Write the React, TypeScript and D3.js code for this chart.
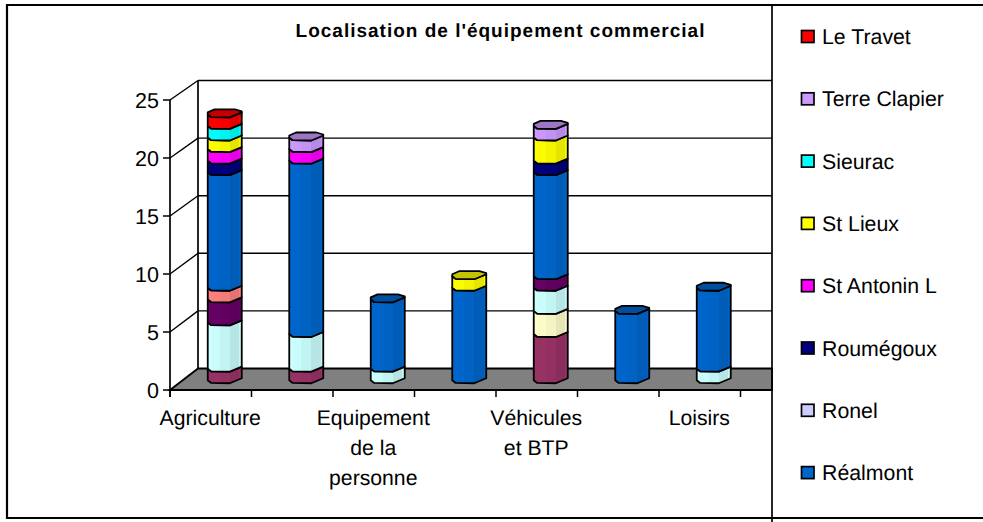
import React from "react";
import * as d3 from "d3";

const title = "Localisation de l'équipement commercial";
// Categories: the chart only prints every other label
const categories = ["Agriculture", "", "Equipement de la personne", "", "Véhicules et BTP", "", "Loisirs"];
const categoryLines = [["Agriculture"], [], ["Equipement", "de la", "personne"], [], ["Véhicules", "et BTP"], [], ["Loisirs"]];
const yTicks = [0, 5, 10, 15, 20, 25];

// Stack order, bottom to top. The first five series fall outside the clipped legend.
const seriesNames = ["s1", "s2", "s3", "s4", "s5", "Réalmont", "Ronel", "Roumégoux", "St Antonin L", "St Lieux", "Sieurac", "Terre Clapier", "Le Travet"];
const seriesColors = ["#993366", "#FFFFCC", "#CCFFFF", "#660066", "#FF8080", "#0066CC", "#CCCCFF", "#000080", "#FF00FF", "#FFFF00", "#00FFFF", "#CC99FF", "#FF0000"];
const s1 = [1, 1, 0, 0, 4, 0, 0];
const s2 = [0, 0, 0, 0, 2, 0, 0];
const s3 = [4, 3, 1, 0, 2, 0, 1];
const s4 = [2, 0, 0, 0, 1, 0, 0];
const s5 = [1, 0, 0, 0, 0, 0, 0];
const realmont = [10, 15, 6, 8, 9, 6, 7];
const ronel = [0, 0, 0, 0, 0, 0, 0];
const roumegoux = [1, 0, 0, 0, 1, 0, 0];
const stAntonin = [1, 1, 0, 0, 0, 0, 0];
const stLieux = [1, 0, 0, 1, 2, 0, 0];
const sieurac = [1, 0, 0, 0, 0, 0, 0];
const terreClapier = [0, 1, 0, 0, 1, 0, 0];
const leTravet = [1, 0, 0, 0, 0, 0, 0];
const seriesValues = [s1, s2, s3, s4, s5, realmont, ronel, roumegoux, stAntonin, stLieux, sieurac, terreClapier, leTravet];
const legendOrder = ["Le Travet", "Terre Clapier", "Sieurac", "St Lieux", "St Antonin L", "Roumégoux", "Ronel", "Réalmont"];

const FONT = "'Liberation Sans', Arial, sans-serif";
const RIGHT = 772;
const DX = 28;

const y = d3.scaleLinear().domain([0, 25]).range([390, 100]);
const yBack = d3.scaleLinear().domain([0, 25]).range([368.5, 80.5]);
const x = d3.scaleBand<number>().domain(categories.map((_, i) => i)).range([170, 740.5]);
const BAR_W = 34;

const frontProfile: [number, number][] = [[0, 1], [0.1, 3.7], [0.65, 4], [1, -1]];
const backProfile: [number, number][] = [[1, -2], [0.8, -4], [0.2, -4], [0, -1]];

function barSegments(cat: number) {
  let acc = 0;
  const out: { s: number; from: number; to: number }[] = [];
  seriesValues.forEach((vals, s) => {
    if (vals[cat] > 0) {
      out.push({ s, from: acc, to: acc + vals[cat] });
      acc += vals[cat];
    }
  });
  return out;
}

const line = d3.line<[number, number]>().x((d) => d[0]).y((d) => d[1]).curve(d3.curveLinear);

function shade(c: string, k: number) {
  return d3.color(c)!.darker(k).formatHex();
}

export default function App() {
  const ticksX = d3.range(0, categories.length + 1).map((i) => 170 + i * x.step());
  return (
    <svg width={983} height={522} textRendering="geometricPrecision" style={{ position: "absolute", left: 0, top: 0, background: "#fff" }}>
      <defs>
        {seriesColors.map((c, i) => (
          <linearGradient key={i} id={`g${i}`} x1="0" x2="1" y1="0" y2="0">
            {[
              [0, 0.1, 0], [0.1, 0.35, 0.03], [0.35, 0.65, 0.12], [0.65, 0.93, 0.3], [0.93, 1, 0.08],
            ].flatMap(([a, b, k], j) => [
              <stop key={`${j}a`} offset={a} stopColor={shade(c, k)} />,
              <stop key={`${j}b`} offset={b} stopColor={shade(c, k)} />,
            ])}
          </linearGradient>
        ))}
      </defs>

      {/* Back and side walls */}
      {yTicks.filter((t) => t > 0).map((t) => (
        <g key={t} stroke="#000" strokeWidth={1.4}>
          <line x1={170} y1={y(t)} x2={170 + DX} y2={yBack(t)} />
          <line x1={170 + DX} y1={yBack(t)} x2={RIGHT} y2={yBack(t)} />
        </g>
      ))}
      <line x1={170 + DX} y1={yBack(25)} x2={170 + DX} y2={yBack(0)} stroke="#000" strokeWidth={1.7} />
      <line x1={170} y1={y(25)} x2={170} y2={y(0) + 7} stroke="#000" strokeWidth={1.7} />

      {/* Floor */}
      <path
        d={line([[170, y(0)], [170 + DX, yBack(0)], [RIGHT, yBack(0)], [RIGHT, y(0)]])! + "Z"}
        fill="#808080" stroke="#000" strokeWidth={1.8}
      />

      {/* Axis ticks and labels */}
      {yTicks.map((t) => (
        <g key={t}>
          <line x1={163} x2={170} y1={y(t)} y2={y(t)} stroke="#000" strokeWidth={1.5} />
          <text x={159} y={y(t) + 7.5} textAnchor="end" fontFamily={FONT} fontSize={21.5} fill="#000">{t}</text>
        </g>
      ))}
      {ticksX.map((tx) => (
        <line key={tx} x1={tx} x2={tx} y1={y(0)} y2={y(0) + 7} stroke="#000" strokeWidth={1.5} />
      ))}
      {categoryLines.map((lines, i) => (
        <text key={i} textAnchor="middle" fontFamily={FONT} fontSize={21.2} fill="#000">
          {lines.map((l, j) => (
            <tspan key={j} x={x(i)! + x.bandwidth() / 2 - 0.5} y={425 + j * 30}>{l}</tspan>
          ))}
        </text>
      ))}

      {/* Cylinders */}
      {categories.map((_, cat) => {
        const cx = x(cat)! + x.bandwidth() / 2 + 14;
        const left = cx - BAR_W / 2;
        const yc = (v: number) => (y(v) + yBack(v)) / 2;
        const segs = barSegments(cat);
        const top = segs[segs.length - 1];
        const front = (v: number) => frontProfile.map(([f, d]) => [left + f * BAR_W, yc(v) + d] as [number, number]);
        const back = (v: number) => backProfile.map(([f, d]) => [left + f * BAR_W, yc(v) + d] as [number, number]);
        return (
          <g key={cat} stroke="#000" strokeWidth={1.8} strokeLinejoin="round">
            {segs.map((seg) => (
              <path
                key={seg.s}
                d={line([...front(seg.from), ...[...front(seg.to)].reverse()])! + "Z"}
                fill={`url(#g${seg.s})`}
              />
            ))}
            <path
              d={line([...front(top.to), ...back(top.to)])! + "Z"}
              fill={shade(seriesColors[top.s], 0.75)}
            />
          </g>
        );
      })}

      {/* Title */}
      <text x={500.5} y={37} textAnchor="middle" fontFamily={FONT} fontSize={19} fontWeight="bold" letterSpacing={1} fill="#000">{title}</text>

      {/* Frames */}
      <path d="M983 5H7V518H983" fill="none" stroke="#000" strokeWidth={2.2} />
      <line x1={RIGHT} x2={RIGHT} y1={5} y2={522} stroke="#000" strokeWidth={1.7} />

      {/* Legend */}
      {legendOrder.map((name, i) => {
        const c = seriesColors[seriesNames.indexOf(name)];
        const ly = 36.5 + i * 62.3;
        return (
          <g key={name}>
            <rect x={801.5} y={ly - 6} width={12.5} height={12} fill={c} stroke="#000" strokeWidth={1.7} />
            <text x={822} y={ly + 7.5} fontFamily={FONT} fontSize={21.3} fill="#000">{name}</text>
          </g>
        );
      })}
    </svg>
  );
}
